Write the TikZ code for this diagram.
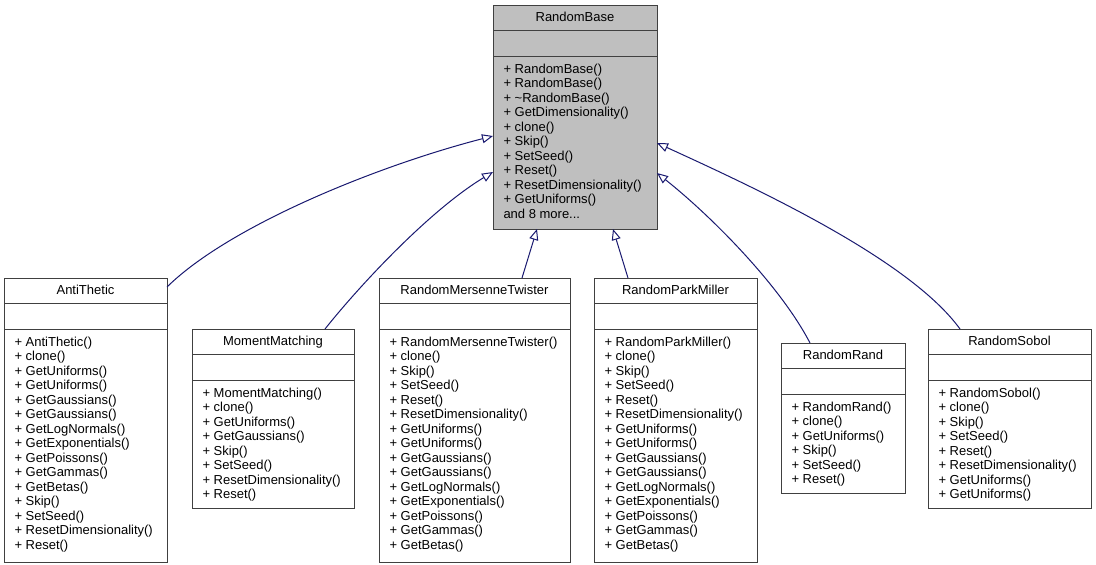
\documentclass[tikz,border=0pt]{standalone}
\usepackage{fontspec}
\setmainfont{Liberation Sans}
\usetikzlibrary{arrows.meta,calc}
\definecolor{edgeblue}{HTML}{191970}
\definecolor{basegray}{HTML}{BFBFBF}
\definecolor{borderc}{HTML}{404040}
\tikzset{
  classbox/.style={draw=borderc, line width=1pt, inner sep=0pt, outer sep=0pt, rectangle},
  sepline/.style={draw=borderc, line width=1pt},
  classtext/.style={inner sep=0pt, outer sep=0pt, font=\fontsize{13}{14.5}\selectfont, text=black},
  inherit/.style={draw=edgeblue, line width=1pt, -{Triangle[open, length=11pt, width=9pt]}}
}
\newcommand{\umlclass}[8]{%
  \node[classbox, fill=#6, minimum width=#4pt, minimum height=#5pt, anchor=north west] (#1) at (#2,#3) {};
  \draw[sepline] ($(#1.north west)+(0,25.5)$) -- ($(#1.north east)+(0,25.5)$);
  \draw[sepline] ($(#1.north west)+(0,51.5)$) -- ($(#1.north east)+(0,51.5)$);
  \node[classtext, anchor=base] (#1-title) at ($(#1.north)+(0,16.5)$) {#7};
  \foreach \m [count=\i from 0] in {#8} {
    \node[classtext, anchor=base west] (#1-m\i) at ($(#1.north west)+(10.5,68+14.5*\i)$) {\m};
  }
}
\begin{document}
\begin{tikzpicture}[x=1pt, y=-1pt]
\fill[white] (0,0) rectangle (1096,565);
\useasboundingbox (0,0) rectangle (1096,565);

\umlclass{rb}{493}{5}{164}{224}{basegray}{RandomBase}{+ RandomBase(), + RandomBase(), + \textasciitilde RandomBase(), + GetDimensionality(), + clone(), + Skip(), + SetSeed(), + Reset(), + ResetDimensionality(), + GetUniforms(), and 8 more.{}.{}.}
\umlclass{at}{4}{278}{163}{284}{white}{AntiThetic}{+ AntiThetic(), + clone(), + GetUniforms(), + GetUniforms(), + GetGaussians(), + GetGaussians(), + GetLogNormals(), + GetExponentials(), + GetPoissons(), + GetGammas(), + GetBetas(), + Skip(), + SetSeed(), + ResetDimensionality(), + Reset()}
\umlclass{mm}{192}{329}{162}{179}{white}{MomentMatching}{+ MomentMatching(), + clone(), + GetUniforms(), + GetGaussians(), + Skip(), + SetSeed(), + ResetDimensionality(), + Reset()}
\umlclass{mt}{379}{278}{191}{284}{white}{RandomMersenneTwister}{+ RandomMersenneTwister(), + clone(), + Skip(), + SetSeed(), + Reset(), + ResetDimensionality(), + GetUniforms(), + GetUniforms(), + GetGaussians(), + GetGaussians(), + GetLogNormals(), + GetExponentials(), + GetPoissons(), + GetGammas(), + GetBetas()}
\umlclass{pm}{594}{278}{163}{284}{white}{RandomParkMiller}{+ RandomParkMiller(), + clone(), + Skip(), + SetSeed(), + Reset(), + ResetDimensionality(), + GetUniforms(), + GetUniforms(), + GetGaussians(), + GetGaussians(), + GetLogNormals(), + GetExponentials(), + GetPoissons(), + GetGammas(), + GetBetas()}
\umlclass{rr}{781}{343}{124}{150}{white}{RandomRand}{+ RandomRand(), + clone(), + GetUniforms(), + Skip(), + SetSeed(), + Reset()}
\umlclass{rs}{928}{329}{163}{179}{white}{RandomSobol}{+ RandomSobol(), + clone(), + Skip(), + SetSeed(), + Reset(), + ResetDimensionality(), + GetUniforms(), + GetUniforms()}

\draw[inherit] ($(at.north east)+(0,9)$) .. controls (230,225) and (380,165) .. ($(rb.north west)+(0,131)$);
\draw[inherit] ($(mm.north west)+(133,0)$) .. controls (360,285) and (430,210) .. ($(rb.north west)+(0,167)$);
\draw[inherit] ($(mt.north west)+(143,0)$) -- ($(rb.south west)+(44,0)$);
\draw[inherit] ($(pm.north west)+(34,0)$) -- ($(rb.south west)+(120,0)$);
\draw[inherit] ($(rr.north west)+(29,0)$) .. controls (780,285) and (710,215) .. ($(rb.north east)+(0,168)$);
\draw[inherit] ($(rs.north west)+(32,0)$) .. controls (910,260) and (760,190) .. ($(rb.north east)+(0,138)$);
\end{tikzpicture}
\end{document}
